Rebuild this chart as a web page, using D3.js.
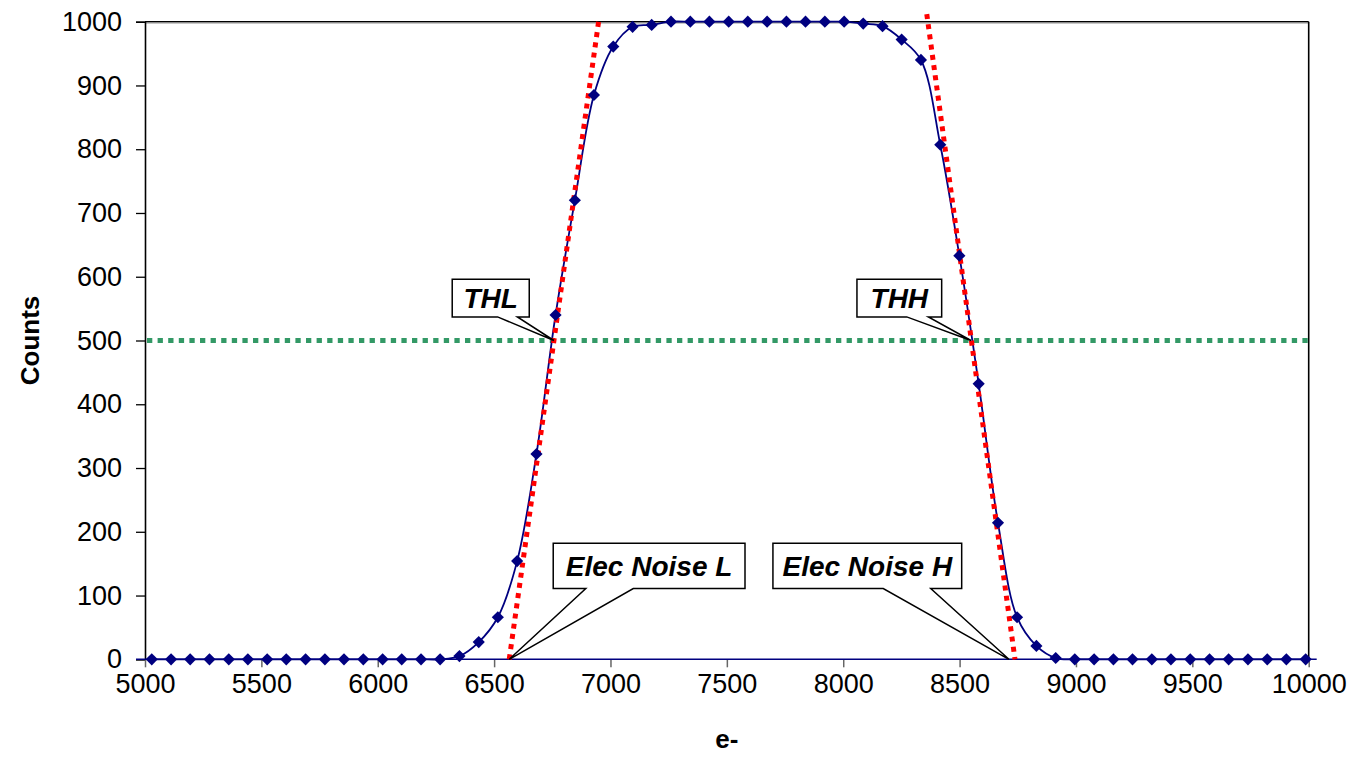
<!DOCTYPE html>
<meta charset="utf-8">
<html>
<head>
<script src="https://cdn.jsdelivr.net/npm/d3@7/dist/d3.min.js"></script>
<style>
  body { margin: 0; background: #fff; }
  text { font-family: Arial, "Liberation Sans", sans-serif; }
</style>
</head>
<body>
<div id="chart"></div>
<script>

// measured counts vs threshold (e-)
var electrons = [5029, 5112, 5194, 5277, 5360, 5442, 5525, 5607, 5690, 5773,
                 5855, 5938, 6021, 6103, 6186, 6268, 6351, 6434, 6516, 6599,
                 6682, 6764, 6847, 6929, 7012, 7095, 7177, 7260, 7343, 7425,
                 7508, 7590, 7673, 7756, 7838, 7921, 8004, 8086, 8169, 8251,
                 8334, 8417, 8499, 8582, 8665, 8747, 8830, 8913, 8995, 9078,
                 9161, 9243, 9326, 9408, 9491, 9574, 9656, 9739, 9822, 9904, 9987];
var counts = [0, 0, 0, 0, 0, 0, 0, 0, 0, 0,
              0, 0, 0, 0, 0, 0, 5, 27, 66, 154,
              322, 540, 720, 885, 961, 992, 995, 1000, 1000, 1000,
              1000, 1000, 1000, 1000, 1000, 1000, 1000, 997, 993, 972,
              940, 807, 633, 432, 214, 66, 21, 2, 0, 0,
              0, 0, 0, 0, 0, 0, 0, 0, 0, 0, 0];

// straight fits of the two edges (red dotted)
var fitLowX = [6565, 6949];
var fitLowY = [0, 1000];
var fitHighX = [8359, 8738];
var fitHighY = [1012, 0];

// half-height level (green dotted)
var halfLevel = 500;

var xTicks = [5000, 5500, 6000, 6500, 7000, 7500, 8000, 8500, 9000, 9500, 10000];
var yTicks = [0, 100, 200, 300, 400, 500, 600, 700, 800, 900, 1000];

// callouts: tip, pointer base and box, in data units
var callouts = [
  {label: "THL",          tip: [6757, 500], base: [6515, 6600], box: [6320, 596, 6651, 537]},
  {label: "THH",          tip: [8549, 500], base: [8273, 8366], box: [8059, 596, 8423, 537]},
  {label: "Elec Noise L", tip: [6565, 0],   base: [6894, 7098], box: [6754, 182, 7578, 111]},
  {label: "Elec Noise H", tip: [8712, 0],   base: [8172, 8376], box: [7698, 182, 8509, 111]}
];

var W = 1352, H = 758;
var margin = {top: 21.7, right: 43.3, bottom: 98.7, left: 145},
    width = W - margin.left - margin.right,
    height = H - margin.top - margin.bottom;

var svg = d3.select("#chart")
  .append("svg")
    .attr("width", W)
    .attr("height", H)
  .append("g")
    .attr("transform", "translate(" + margin.left + "," + margin.top + ")");

var x = d3.scaleLinear().domain([5000, 10000]).range([0, width]);
var y = d3.scaleLinear().domain([0, 1000]).range([height, 0]);

// plot frame top / right
svg.append("line").attr("x1", 0).attr("x2", width).attr("y1", 0).attr("y2", 0)
  .attr("stroke", "#000").attr("stroke-width", 1.6);
svg.append("line").attr("x1", 0).attr("x2", width).attr("y1", 1.6).attr("y2", 1.6)
  .attr("stroke", "#bbb").attr("stroke-width", 1);
svg.append("line").attr("x1", width).attr("x2", width).attr("y1", 0).attr("y2", height)
  .attr("stroke", "#000").attr("stroke-width", 1.6);

// y axis
var yAxis = svg.append("g")
  .call(d3.axisLeft(y).tickValues(yTicks).tickFormat(d3.format("d")).tickSize(9).tickPadding(14));
yAxis.select(".domain").attr("stroke", "#000").attr("stroke-width", 1.6);
yAxis.selectAll(".tick line").attr("stroke", "#000").attr("stroke-width", 1.3);
yAxis.selectAll("text").style("font-size", "27px").attr("fill", "#000");

// x axis
var xAxis = svg.append("g")
  .attr("transform", "translate(0," + height + ")")
  .call(d3.axisBottom(x).tickValues(xTicks).tickFormat(d3.format("d")).tickSize(8).tickPadding(7));
xAxis.select(".domain").remove();
xAxis.selectAll(".tick line").attr("stroke", "#666").attr("stroke-width", 1.5);
xAxis.selectAll("text").style("font-size", "27px").attr("fill", "#000");
svg.append("line")
  .attr("x1", -9).attr("x2", width + 8)
  .attr("y1", y(0)).attr("y2", y(0))
  .attr("stroke", "#000080").attr("stroke-width", 1.6);

// axis titles
svg.append("text")
  .attr("transform", "translate(" + (-115) + "," + (height / 2) + ") rotate(-90)")
  .attr("text-anchor", "middle")
  .attr("dy", "0.35em")
  .style("font-size", "26px").style("font-weight", "bold")
  .text("Counts");
svg.append("text")
  .attr("x", width / 2).attr("y", height + 89)
  .attr("text-anchor", "middle")
  .style("font-size", "26px").style("font-weight", "bold")
  .text("e-");

// half level
svg.append("line")
  .attr("x1", x(5000) + 2).attr("x2", x(10000))
  .attr("y1", y(halfLevel)).attr("y2", y(halfLevel))
  .attr("stroke", "#339966").attr("stroke-width", 5)
  .attr("stroke-dasharray", "5.3,5.3");

// data
var pts = electrons.map(function(e, i) { return {x: e, y: counts[i]}; });

svg.append("path")
  .datum(pts)
  .attr("fill", "none")
  .attr("stroke", "#000080")
  .attr("stroke-width", 1.8)
  .attr("d", d3.line()
    .curve(d3.curveCatmullRom.alpha(0.5))
    .x(function(d) { return x(d.x); })
    .y(function(d) { return y(d.y); }));

// fits
[[fitLowX, fitLowY], [fitHighX, fitHighY]].forEach(function(f) {
  svg.append("line")
    .attr("x1", x(f[0][0])).attr("y1", y(f[1][0]))
    .attr("x2", x(f[0][1])).attr("y2", y(f[1][1]))
    .attr("stroke", "#ff0000").attr("stroke-width", 5)
    .attr("stroke-dasharray", "5,5.3");
});

// markers
svg.selectAll(".pt")
  .data(pts)
  .enter().append("path")
    .attr("class", "pt")
    .attr("transform", function(d) { return "translate(" + x(d.x) + "," + y(d.y) + ") rotate(45)"; })
    .attr("d", d3.symbol().type(d3.symbolSquare).size(74))
    .attr("fill", "#000080");

// callouts
callouts.forEach(function(c) {
  var bx0 = x(c.box[0]), by0 = y(c.box[1]), bx1 = x(c.box[2]), by1 = y(c.box[3]);
  var g = svg.append("g");
  g.append("path")
    .attr("d", "M" + bx0 + "," + by0 + "H" + bx1 + "V" + by1 +
               "H" + x(c.base[1]) + "L" + x(c.tip[0]) + "," + y(c.tip[1]) +
               "L" + x(c.base[0]) + "," + by1 + "H" + bx0 + "Z")
    .attr("fill", "#fff")
    .attr("stroke", "#000")
    .attr("stroke-width", 1.5);
  g.append("text")
    .attr("x", (bx0 + bx1) / 2)
    .attr("y", (by0 + by1) / 2)
    .attr("dy", "0.36em")
    .attr("text-anchor", "middle")
    .style("font-size", "28px")
    .style("font-weight", "bold")
    .style("font-style", "italic")
    .text(c.label);
});

</script>
</body>
</html>
